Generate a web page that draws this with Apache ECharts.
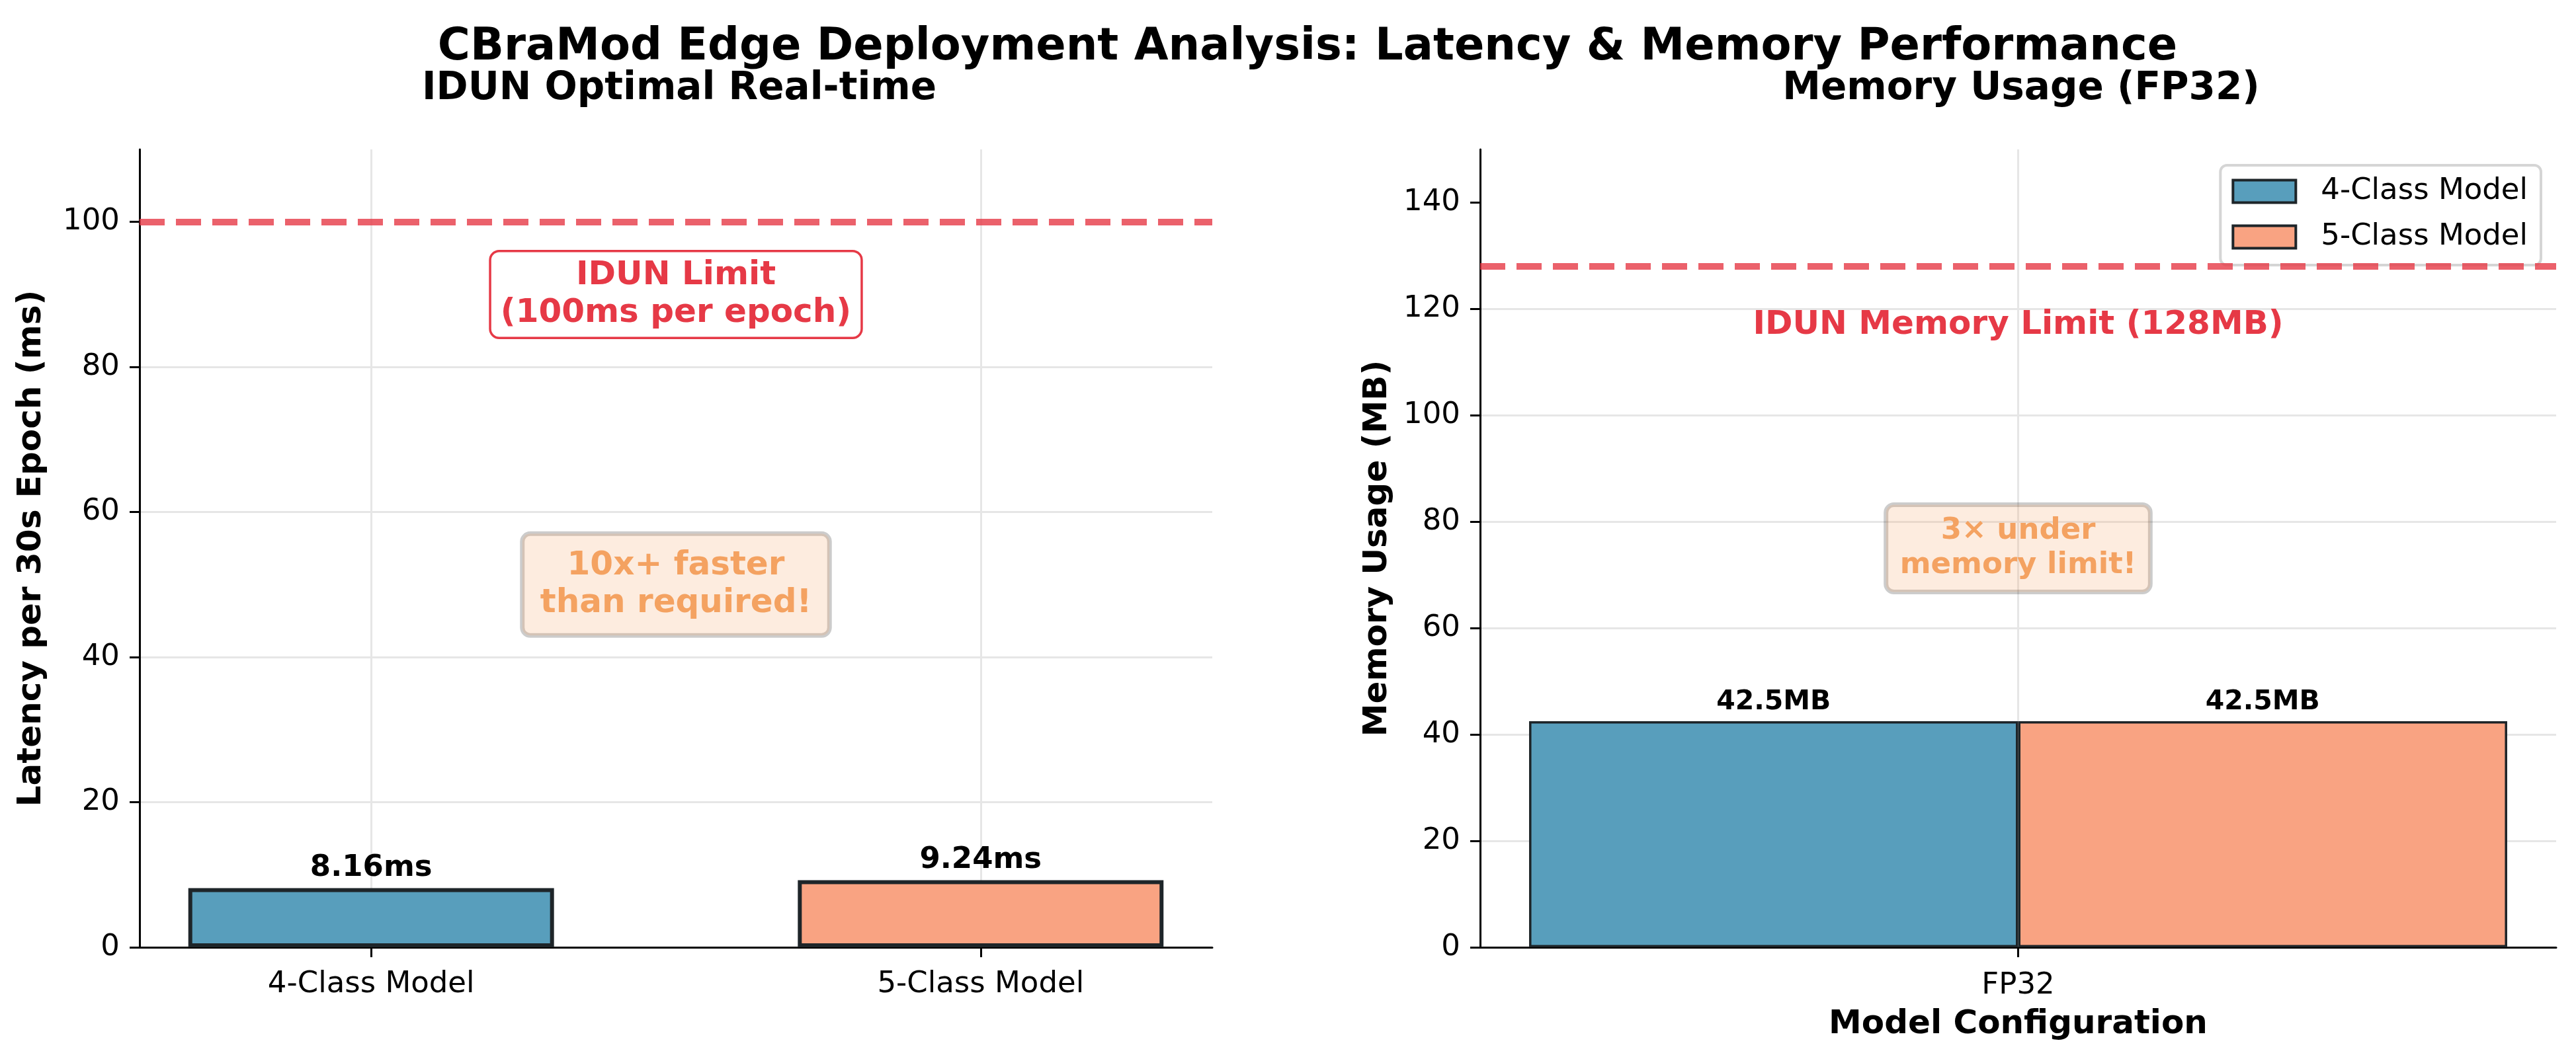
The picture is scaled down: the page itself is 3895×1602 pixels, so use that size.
<!DOCTYPE html>
<html>
<head>
	<meta charset="utf-8">
	<title>CBraMod Edge Deployment Analysis</title>
	<script src="https://cdn.jsdelivr.net/npm/echarts@6/dist/echarts.min.js"></script>
</head>
<body style="margin:0; background:#ffffff">
	<div id="main" style="width:3895px; height:1602px"></div>
	<script type="text/javascript">
	// ---- data ----
	var models = ['4-Class Model', '5-Class Model'];
	var latencyMs = [8.16, 9.24];
	var latencyLimit = 100;
	var latencyTicks = [0, 20, 40, 60, 80, 100];

	var configs = ['FP32'];
	var memory4Class = [42.5];
	var memory5Class = [42.5];
	var memoryLimit = 128;
	var memoryTicks = [0, 20, 40, 60, 80, 100, 120, 140];

	var modelColors = ['#589EBC', '#F9A382'];

	// ---- layout (pixels) ----
	var leftGrid = {left: 211, top: 226, width: 1622, height: 1207};
	var rightGrid = {left: 2238, top: 226, width: 1627, height: 1207};
	var xMinL = -0.38, xMaxL = 1.38;           // matplotlib 自动留白
	var barWidthL = 0.6 * leftGrid.width / (xMaxL - xMinL);

	var FONT = 'DejaVu Sans';
	var RED = '#E63946';
	var ORANGE = '#F4A261';
	var EDGE = '#1e2529';
	var GRID = '#e6e6e6';

	var myChart = echarts.init(document.getElementById('main'), null, {renderer: 'canvas'});

	var axisLineStyle = {show: true, onZero: false, lineStyle: {color: '#000', width: 3}};
	var tickStyle = {show: true, length: 15, lineStyle: {color: '#000', width: 3}};
	var limitLine = {color: RED, opacity: 0.8, type: [38, 17], width: 10};
	var gridLine = {color: GRID, width: 3, type: 'solid'};

	function boxLabel(text, color, size, bg, border, pad) {
		return {
			show: true, position: 'inside', formatter: text,
			color: color, fontSize: size, fontWeight: 'bold', fontFamily: FONT,
			lineHeight: Math.round(size * 1.15), align: 'center',
			backgroundColor: bg, borderColor: border, borderWidth: border ? 3.5 : 0,
			borderRadius: 12, padding: pad
		};
	}

	// 辅助系列：纵向网格线（在柱子后面）+ 文字注释
	function helper(xAxisIndex, yAxisIndex, gridValues, notes) {
		return {
			type: 'line', xAxisIndex: xAxisIndex, yAxisIndex: yAxisIndex,
			data: [], silent: true, z: 0,
			markLine: {
				z: 0, silent: true, symbol: 'none', animation: false,
				label: {show: false}, lineStyle: gridLine,
				data: gridValues.map(function (v) { return {xAxis: v}; })
			},
			markPoint: {
				z: 10, symbol: 'rect', symbolSize: 1, itemStyle: {color: 'transparent'}, silent: true,
				data: notes
			}
		};
	}

	var option = {
		backgroundColor: '#ffffff',
		animation: false,
		textStyle: {fontFamily: FONT},

		title: [
			{text: 'CBraMod Edge Deployment Analysis: Latency & Memory Performance',
			 left: 1972, top: 34, textAlign: 'center',
			 textStyle: {fontSize: 67, fontWeight: 'bold', color: '#000'}},
			{text: 'IDUN Optimal Real-time', left: 1022, top: 101, textAlign: 'center',
			 textStyle: {fontSize: 58, fontWeight: 'bold', color: '#000'}},
			{text: 'Memory Usage (FP32)', left: 3051, top: 101, textAlign: 'center',
			 textStyle: {fontSize: 58, fontWeight: 'bold', color: '#000'}}
		],

		legend: {
			data: models,
			orient: 'vertical', right: 53, top: 250,
			itemWidth: 95, itemHeight: 34, itemGap: 24,
			padding: [17, 20, 20, 17],
			borderColor: '#d5d5d5', borderWidth: 4, borderRadius: 10,
			backgroundColor: 'rgba(255,255,255,0.8)',
			icon: 'rect',
			itemStyle: {borderColor: EDGE, borderWidth: 4},
			textStyle: {fontSize: 45, color: '#000', padding: [0, 0, 0, 33]}
		},

		grid: [
			Object.assign({containLabel: false}, leftGrid),
			Object.assign({containLabel: false}, rightGrid)
		],

		xAxis: [
			{
				type: 'value', gridIndex: 0, min: xMinL, max: xMaxL,
				axisLine: axisLineStyle, axisTick: Object.assign({customValues: [0, 1]}, tickStyle),
				axisLabel: {customValues: [0, 1], fontSize: 45, color: '#000', margin: 34,
					formatter: function (v) { return models[Math.round(v)]; }},
				splitLine: {show: false}
			},
			{
				type: 'category', gridIndex: 1, data: configs, boundaryGap: true,
				axisLine: axisLineStyle, axisTick: Object.assign({alignWithLabel: true}, tickStyle),
				axisLabel: {fontSize: 45, color: '#000', margin: 36},
				splitLine: {show: false},
				name: 'Model Configuration', nameLocation: 'middle', nameGap: 92,
				nameTextStyle: {fontSize: 50, fontWeight: 'bold', color: '#000'}
			}
		],

		yAxis: [
			{
				type: 'value', gridIndex: 0, min: 0, max: 110, interval: 20,
				axisLine: axisLineStyle, axisTick: Object.assign({customValues: latencyTicks}, tickStyle),
				axisLabel: {customValues: latencyTicks, fontSize: 45, color: '#000', margin: 30},
				splitLine: {show: true, showMaxLine: false, lineStyle: gridLine},
				name: 'Latency per 30s Epoch (ms)', nameLocation: 'middle', nameGap: 138,
				nameTextStyle: {fontSize: 50, fontWeight: 'bold', color: '#000'}
			},
			{
				type: 'value', gridIndex: 1, min: 0, max: 150, interval: 20,
				axisLine: axisLineStyle, axisTick: Object.assign({customValues: memoryTicks}, tickStyle),
				axisLabel: {customValues: memoryTicks, fontSize: 45, color: '#000', margin: 30},
				splitLine: {show: true, showMaxLine: false, lineStyle: gridLine},
				name: 'Memory Usage (MB)', nameLocation: 'middle', nameGap: 130,
				nameTextStyle: {fontSize: 50, fontWeight: 'bold', color: '#000'}
			}
		],

		series: [
			helper(0, 0, [0, 1], [
				{coord: [0.5, 90], label: boxLabel('IDUN Limit\n(100ms per epoch)', RED, 50,
					'#ffffff', RED, [7, 14])},
				{coord: [0.5, 50], label: boxLabel('10x+ faster\nthan required!', ORANGE, 50,
					'rgba(244,162,97,0.2)', 'rgba(0,0,0,0.2)', [20, 27])}
			]),
			helper(1, 1, configs, [
				{coord: [configs[0], 117], label: boxLabel('IDUN Memory Limit (128MB)', RED, 50,
					'transparent', null, 0)},
				{coord: [configs[0], 75], label: boxLabel('3× under\nmemory limit!', ORANGE, 45,
					'rgba(244,162,97,0.2)', 'rgba(0,0,0,0.2)', [14, 21])}
			]),

			// 左图：延迟
			{
				name: 'Latency', type: 'bar', xAxisIndex: 0, yAxisIndex: 0, z: 2,
				barWidth: barWidthL,
				data: latencyMs.map(function (v, i) {
					return {value: [i, v], itemStyle: {color: modelColors[i]}};
				}),
				itemStyle: {borderColor: EDGE, borderWidth: 6},
				label: {show: true, position: 'top', distance: 8, fontSize: 45, fontWeight: 'bold', color: '#000',
					formatter: function (p) { return p.value[1].toFixed(2) + 'ms'; }},
				markLine: {
					silent: true, symbol: 'none', label: {show: false}, lineStyle: limitLine,
					data: [{yAxis: latencyLimit}]
				}
			},

			// 右图：内存
			{
				name: models[0], type: 'bar', xAxisIndex: 1, yAxisIndex: 1, z: 2,
				data: memory4Class, barGap: '0%', barCategoryGap: '9.1%',
				itemStyle: {color: modelColors[0], borderColor: EDGE, borderWidth: 3.5},
				label: {show: true, position: 'top', distance: 8, fontSize: 41, fontWeight: 'bold', color: '#000',
					formatter: '{c}MB'},
				markLine: {
					silent: true, symbol: 'none', label: {show: false}, lineStyle: limitLine,
					data: [{yAxis: memoryLimit}]
				}
			},
			{
				name: models[1], type: 'bar', xAxisIndex: 1, yAxisIndex: 1, z: 2,
				data: memory5Class, barGap: '0%', barCategoryGap: '9.1%',
				itemStyle: {color: modelColors[1], borderColor: EDGE, borderWidth: 3.5},
				label: {show: true, position: 'top', distance: 8, fontSize: 41, fontWeight: 'bold', color: '#000',
					formatter: '{c}MB'}
			}
		]
	};

	myChart.setOption(option);
	</script>
</body>
</html>
